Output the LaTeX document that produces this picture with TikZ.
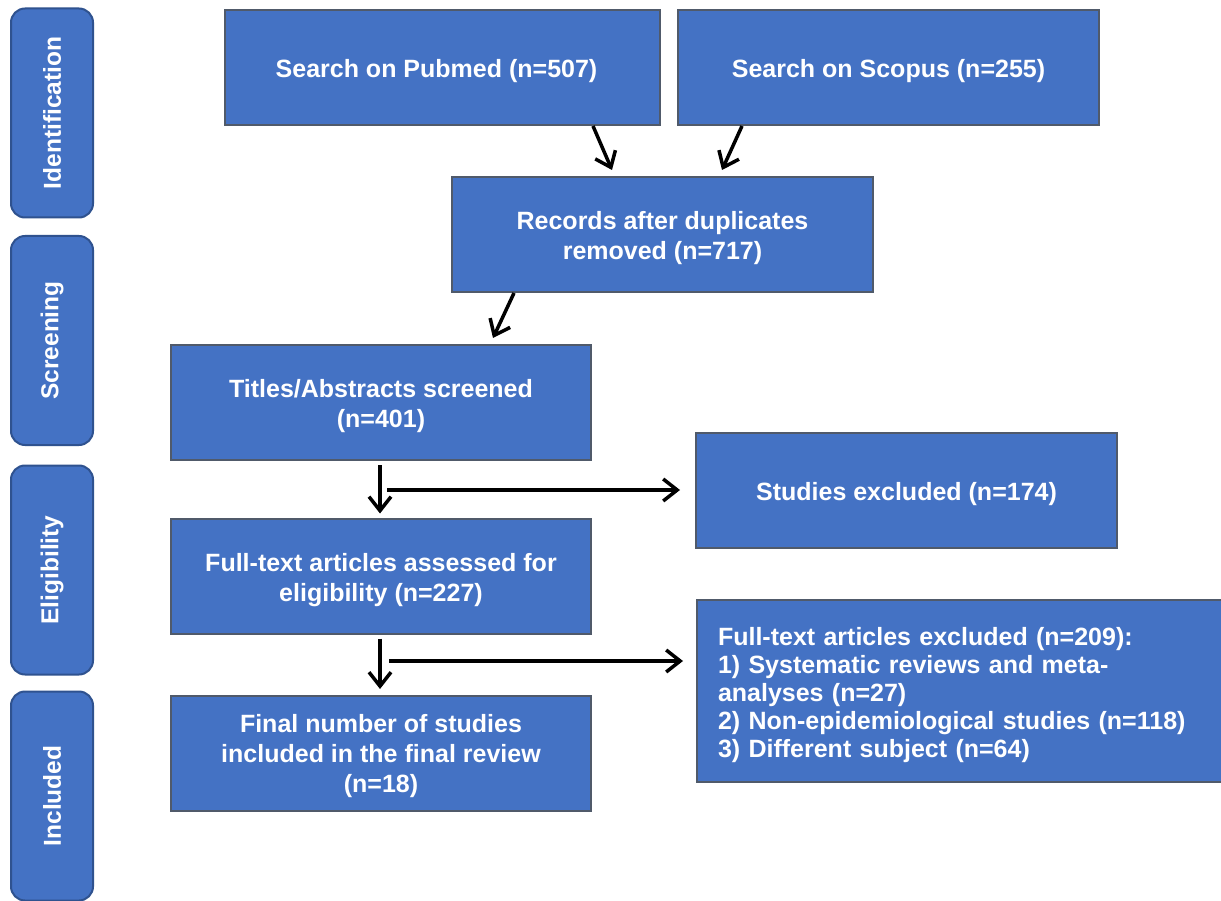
\documentclass[tikz,border=0pt]{standalone}
\usepackage{fontspec}
\setmainfont{Liberation Sans}
\usetikzlibrary{arrows.meta}
\definecolor{boxblue}{HTML}{4472C4}
\definecolor{bandedge}{HTML}{2F528F}
\definecolor{boxedge}{HTML}{505A6A}
\tikzset{
  band/.style={draw=bandedge, fill=boxblue, line width=2pt, rounded corners=14pt,
    minimum width=82pt, minimum height=209pt, inner sep=0pt, text=white,
    font=\fontsize{24.5}{29}\selectfont\bfseries},
  stage/.style={draw=boxedge, fill=boxblue, line width=2pt, inner sep=0pt,
    minimum height=115pt},
  stagetext/.style={text=white, align=center, inner sep=0pt, yshift=-4pt,
    font=\fontsize{25}{30}\selectfont\bfseries},
  arr/.style={line width=3.5pt, -{Straight Barb[length=14pt,width=22pt]}}
}
\begin{document}
\begin{tikzpicture}[x=1pt,y=-1pt]
\useasboundingbox (0,0) rectangle (1221,901);
\fill[white] (0,0) rectangle (1221,901);
% side bands
\node[band] (ident) at (52,113) {\rotatebox{90}{Identification}};
\node[band] (screen) at (52,340.5) {\rotatebox{90}{Screening}};
\node[band] (elig) at (52,570) {\rotatebox{90}{Eligibility}};
\node[band] (incl) at (52,796) {\rotatebox{90}{Included}};
% boxes
\node[stage, minimum width=435pt,
  label={[stagetext, xshift=-6pt]center:{Search on Pubmed (n=507)}}] (pubmed) at (442.5,67.5) {};
\node[stage, minimum width=421pt,
  label={[stagetext]center:{Search on Scopus (n=255)}}] (scopus) at (888.5,67.5) {};
\node[stage, minimum width=421pt,
  label={[stagetext]center:{Records after duplicates\\removed (n=717)}}] (records) at (662.5,234.5) {};
\node[stage, minimum width=420pt,
  label={[stagetext]center:{Titles/Abstracts screened\\(n=401)}}] (titles) at (381,402.5) {};
\node[stage, minimum width=421pt,
  label={[stagetext]center:{Studies excluded (n=174)}}] (excl1) at (906.5,490.5) {};
\node[stage, minimum width=420pt,
  label={[stagetext]center:{Full-text articles assessed for\\eligibility (n=227)}}] (ft) at (381,576) {};
\node[stage, minimum width=420pt,
  label={[stagetext, yshift=1pt]center:{Final number of studies\\included in the final review\\(n=18)}}] (final) at (381,753.5) {};
\node[stage, minimum width=526pt, minimum height=182pt,
  label={[stagetext, text width=484pt, align=left, font=\fontsize{25}{28}\selectfont\bfseries]center:{Full-text articles excluded (n=209):\\1) Systematic reviews and meta-\\analyses (n=27)\\2) Non-epidemiological studies (n=118)\\3) Different subject (n=64)}}] (excl2) at (960,691) {};
% connectors
\draw[arr] ([xshift=150.5pt]pubmed.south) -- ([xshift=-50.5pt,yshift=6pt]records.north);
\draw[arr] ([xshift=-146.5pt]scopus.south) -- ([xshift=59.5pt,yshift=6pt]records.north);
\draw[arr] ([xshift=-148.5pt]records.south) -- ([xshift=112pt,yshift=6pt]titles.north);
\draw[arr] ([xshift=-1pt,yshift=-4pt]titles.south) -- ([xshift=-1pt,yshift=4pt]ft.north);
\draw[arr] ([xshift=-1pt,yshift=-4pt]ft.south) -- ([xshift=-1pt,yshift=6pt]final.north);
\coordinate (b1) at (387,490);
\coordinate (b2) at (389,661);
\draw[arr] (b1) -- ([xshift=-15pt]excl1.west |- b1);
\draw[arr] (b2) -- ([xshift=-13pt]excl2.west |- b2);
\end{tikzpicture}
\end{document}
